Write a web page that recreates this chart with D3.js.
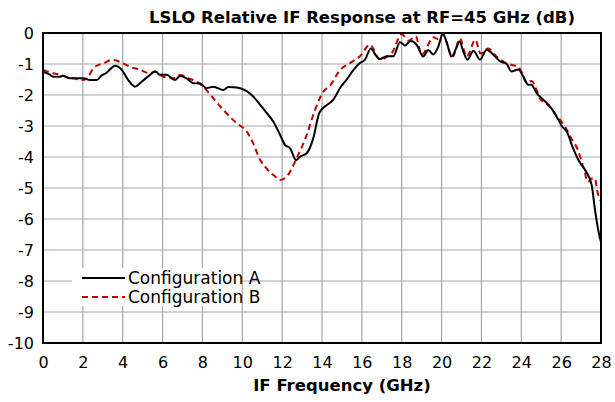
<!DOCTYPE html>
<html><head><meta charset="utf-8">
<script src="https://cdn.jsdelivr.net/npm/d3@7"></script>
<style>body{margin:0;background:#fff}svg{display:block;font-family:"DejaVu Sans",Verdana,sans-serif}</style>
</head><body><svg id="c" width="615" height="402"></svg>
<script>
const titleText = "LSLO Relative IF Response at RF=45 GHz (dB)";
const xTitle = "IF Frequency (GHz)";
const xTicks = [0,2,4,6,8,10,12,14,16,18,20,22,24,26,28];
const yTicks = [0,-1,-2,-3,-4,-5,-6,-7,-8,-9,-10];
const seriesNames = ["Configuration A","Configuration B"];

const freqA = [0,0.3,0.52,0.85,1.0,1.35,2.02,2.36,2.69,2.94,3.19,3.4,3.61,3.95,4.28,4.62,4.95,5.37,5.62,5.87,6.2,6.62,6.87,7.2,7.54,7.88,8.21,8.55,9.05,9.3,9.72,10.2,10.55,10.9,11.2,11.56,11.9,12.14,12.4,12.7,12.9,13.23,13.56,13.85,14.05,14.3,14.57,14.9,15.24,15.57,15.9,16.16,16.45,16.7,16.9,17.24,17.58,17.91,18.16,18.45,18.75,19.08,19.33,19.58,19.83,20.06,20.26,20.5,20.76,20.9,21.09,21.3,21.6,21.93,22.26,22.6,22.93,23.27,23.5,23.85,24.1,24.35,24.5,24.77,25.1,25.44,25.77,26.03,26.3,26.6,26.94,27.2,27.53,27.7,27.86,28];
const valA = [-1.25,-1.33,-1.41,-1.41,-1.38,-1.46,-1.46,-1.52,-1.52,-1.37,-1.28,-1.15,-1.06,-1.19,-1.52,-1.73,-1.57,-1.35,-1.23,-1.35,-1.35,-1.52,-1.39,-1.46,-1.62,-1.63,-1.78,-1.73,-1.84,-1.74,-1.76,-1.87,-2.05,-2.32,-2.56,-2.86,-3.29,-3.61,-3.72,-4.1,-3.99,-3.88,-3.4,-2.6,-2.42,-2.3,-2.15,-1.78,-1.5,-1.2,-0.97,-0.86,-0.5,-0.72,-0.84,-0.75,-0.75,-0.3,-0.4,-0.26,-0.38,-0.76,-0.55,-0.69,-0.45,-0.03,-0.3,-0.76,-0.45,-0.27,-0.6,-0.86,-0.57,-0.86,-0.54,-0.7,-0.91,-1.0,-1.24,-1.18,-1.4,-1.67,-1.67,-1.94,-2.15,-2.37,-2.69,-3.0,-3.2,-3.72,-4.18,-4.42,-4.9,-5.71,-6.35,-6.75];

const freqB = [0,0.5,0.85,1.2,1.52,2.02,2.27,2.52,2.8,3.03,3.45,4.03,4.37,4.87,5.37,5.62,6.04,6.54,6.87,7.29,7.71,8.04,8.55,9.05,9.72,10.2,10.55,10.9,11.22,11.6,11.9,12.23,12.73,13.23,13.65,14.07,14.4,14.9,15.4,15.9,16.41,16.9,17.5,18.0,18.35,18.7,19.0,19.6,19.83,20.08,20.34,20.55,20.92,21.26,21.7,21.95,22.34,22.76,23.27,23.85,24.0,24.27,24.52,24.77,24.94,25.3,25.69,26.19,26.6,26.77,27.11,27.36,27.53,27.7,27.8,28];
const valB = [-1.19,-1.3,-1.35,-1.42,-1.46,-1.52,-1.41,-1.14,-1.03,-0.98,-0.87,-0.98,-1.09,-1.19,-1.3,-1.25,-1.41,-1.46,-1.35,-1.46,-1.57,-1.73,-2.11,-2.48,-2.91,-3.16,-3.56,-4.1,-4.37,-4.6,-4.74,-4.63,-4.04,-3.29,-2.48,-1.89,-1.7,-1.2,-0.97,-0.75,-0.38,-0.85,-0.65,-0.04,-0.25,-0.11,-0.7,-0.14,-0.2,-0.02,-0.49,-0.78,-0.18,-0.76,-0.22,-0.66,-0.5,-0.76,-0.98,-1.1,-1.24,-1.61,-1.55,-1.84,-2.12,-2.3,-2.6,-3.02,-3.5,-3.67,-4.31,-4.8,-4.69,-4.69,-5.06,-5.44];

const svg = d3.select("#c");
const L=43, R=601, T=33, B=343;
const x = d3.scaleLinear().domain([0,28]).range([L,R]);
const y = d3.scaleLinear().domain([-10,0]).range([B,T]);

// grid
svg.append("g").selectAll("line").data(xTicks).join("line")
  .attr("x1",d=>x(d)).attr("x2",d=>x(d)).attr("y1",T).attr("y2",B)
  .attr("stroke","#a6a6a6").attr("stroke-width",1.2);
svg.append("g").selectAll("line").data(yTicks).join("line")
  .attr("x1",L).attr("x2",R).attr("y1",d=>y(d)).attr("y2",d=>y(d))
  .attr("stroke","#a6a6a6").attr("stroke-width",1.2);

// axes labels
const xAxis = d3.axisBottom(x).tickValues(xTicks).tickSize(0).tickPadding(14).tickFormat(d3.format("d"));
const gx = svg.append("g").attr("transform",`translate(0,${B})`).call(xAxis);
gx.select(".domain").remove();
gx.selectAll("text").attr("font-size",16).attr("fill","#000").attr("font-family","DejaVu Sans");
const yAxis = d3.axisLeft(y).tickValues(yTicks).tickSize(0).tickPadding(9).tickFormat(d=>d3.format("d")(d).replace("−","-"));
const gy = svg.append("g").attr("transform",`translate(${L},0)`).call(yAxis);
gy.select(".domain").remove();
gy.selectAll("text").attr("font-size",16).attr("fill","#000").attr("font-family","DejaVu Sans");

// legend box
const lg = svg.append("g");
lg.append("rect").attr("x",72).attr("y",268).attr("width",169).attr("height",38).attr("fill","#fff");

// lines
const line = d3.line().x(d=>x(d[0])).y(d=>y(d[1])).curve(d3.curveMonotoneX);
const dataA = freqA.map((f,i)=>[f,valA[i]]);
const dataB = freqB.map((f,i)=>[f,valB[i]]);
svg.append("path").datum(dataB).attr("d",line).attr("fill","none")
  .attr("stroke","#c00000").attr("stroke-width",2).attr("stroke-dasharray","6,4");
svg.append("path").datum(dataA).attr("d",line).attr("fill","none")
  .attr("stroke","#000").attr("stroke-width",2);

// frame
svg.append("rect").attr("x",L).attr("y",T).attr("width",R-L).attr("height",B-T)
  .attr("fill","none").attr("stroke","#000").attr("stroke-width",2);

// legend entries
const legendStyles = [{stroke:"#000",dash:null},{stroke:"#c00000",dash:"6,4"}];
seriesNames.forEach((name,i)=>{
  const yy = 278 + i*19;
  lg.append("line").attr("x1",82).attr("x2",125).attr("y1",yy).attr("y2",yy)
    .attr("stroke",legendStyles[i].stroke).attr("stroke-width",2)
    .attr("stroke-dasharray",legendStyles[i].dash);
  lg.append("text").attr("x",128).attr("y",yy).attr("dy","0.35em")
    .attr("font-size",17).text(name);
});
svg.node().appendChild(lg.node());

// titles
svg.append("text").attr("x",362).attr("y",22.5).attr("text-anchor","middle")
  .attr("font-weight","bold").attr("font-size",16.5).text(titleText);
svg.append("text").attr("x",342).attr("y",391).attr("text-anchor","middle")
  .attr("font-weight","bold").attr("font-size",16.5).text(xTitle);
</script></body></html>
